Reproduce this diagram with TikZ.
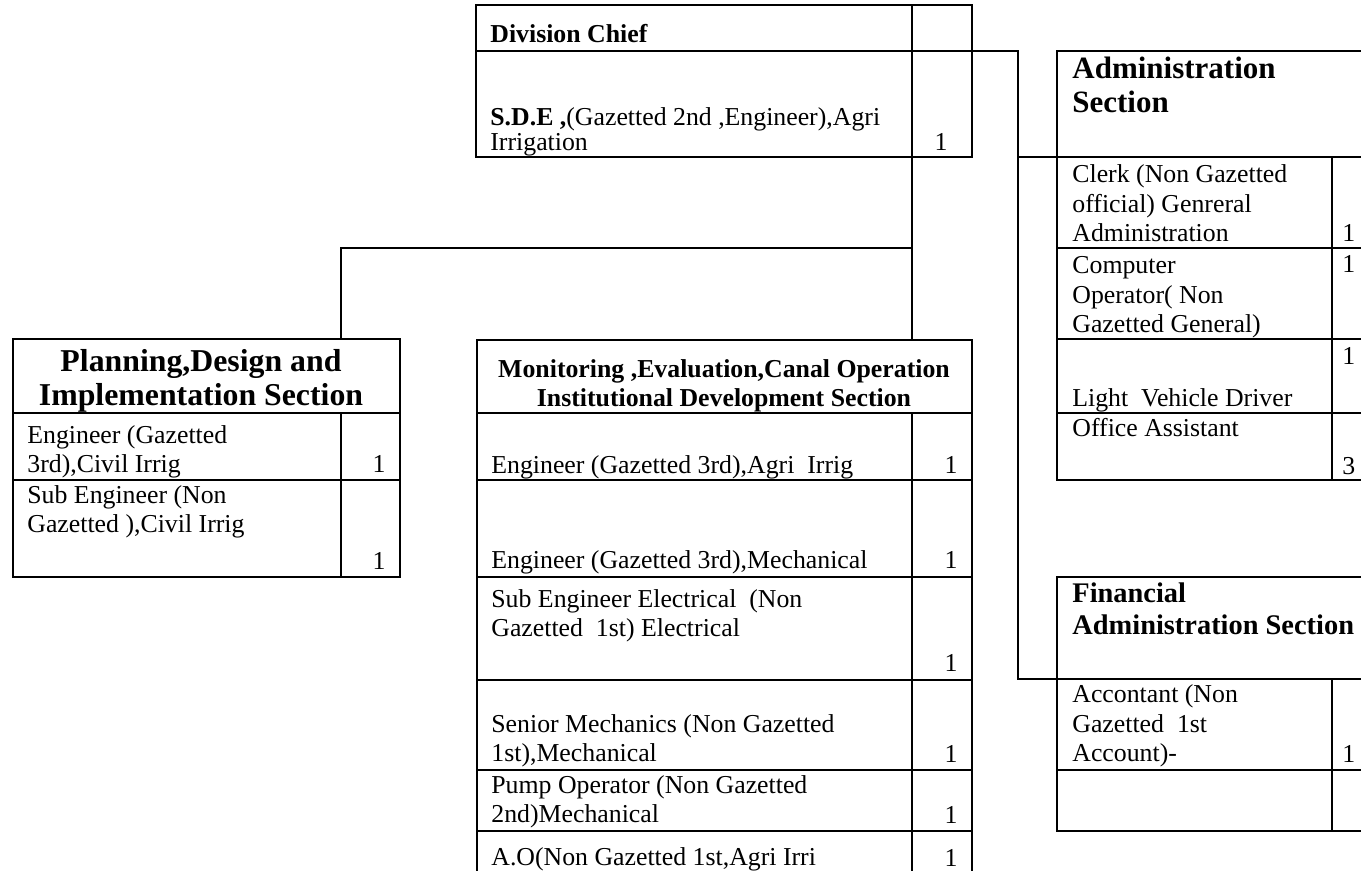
\documentclass[tikz,border=0pt]{standalone}
\usepackage{fontspec}
\setmainfont{Liberation Serif}
\tikzset{
  tablebox/.style={draw, line width=1pt, inner sep=0pt, outer sep=0pt, anchor=north west},
  cellrule/.style={line width=1pt},
  wire/.style={line width=1pt},
  celltext/.style={inner sep=0pt, align=left, anchor=south west, yshift=-4.425pt,
    font=\fontsize{12.9}{14.75}\selectfont, execute at end node=\strut},
  % yshift adds up: net shift is -3.75pt, the strut depth at 12.5pt leading
  celltight/.style={celltext, yshift=0.675pt, font=\fontsize{12.9}{12.5}\selectfont},
  cellbold/.style={celltext, font=\bfseries\fontsize{12.9}{14.75}\selectfont},
  sectitle/.style={inner sep=0pt, align=left, anchor=south west, yshift=-5.1pt,
    font=\bfseries\fontsize{15.5}{17}\selectfont, execute at end node=\strut},
  tally/.style={inner sep=0pt, anchor=base east, font=\fontsize{12.9}{14.75}\selectfont},
  tallyl/.style={tally, anchor=base west},
}
\begin{document}
\begin{tikzpicture}[x=0.5pt, y=-0.5pt]
\useasboundingbox (0,0) rectangle (1361,871);
\clip (0,0) rectangle (1361,871);

% ---- table frames ----
\node[tablebox, minimum width=248pt, minimum height=76pt] (chief) at (476,5) {};
\node[tablebox, minimum width=193.5pt, minimum height=119pt] (plan) at (13,339) {};
\node[tablebox, minimum width=247.5pt, minimum height=300pt] (mon) at (477,340) {};
\node[tablebox, minimum width=200pt, minimum height=214.5pt] (admin) at (1057,51) {};
\node[tablebox, minimum width=200pt, minimum height=127pt] (fin) at (1057,577) {};

% ---- inner rules: Division Chief ----
\draw[cellrule] (chief.west |- 0,51) -- (chief.east |- 0,51);
\draw[cellrule] (912,0 |- chief.north) -- (912,0 |- chief.south);

% ---- inner rules: Planning ----
\draw[cellrule] (plan.west |- 0,413) -- (plan.east |- 0,413);
\draw[cellrule] (plan.west |- 0,480) -- (plan.east |- 0,480);
\draw[cellrule] (341,413) -- (341,0 |- plan.south);

% ---- inner rules: Monitoring ----
\foreach \yy in {413,480,577,680,770,831}
  \draw[cellrule] (mon.west |- 0,\yy) -- (mon.east |- 0,\yy);
\draw[cellrule] (912,413) -- (912,0 |- mon.south);

% ---- inner rules: Administration ----
\foreach \yy in {157,248,339,413}
  \draw[cellrule] (admin.west |- 0,\yy) -- (admin.east |- 0,\yy);
\draw[cellrule] (1332,157) -- (1332,0 |- admin.south);

% ---- inner rules: Financial ----
\foreach \yy in {679,770}
  \draw[cellrule] (fin.west |- 0,\yy) -- (fin.east |- 0,\yy);
\draw[cellrule] (1332,679) -- (1332,0 |- fin.south);

% ---- connectors ----
\coordinate (trunktop) at (chief.south -| 912,0);
\coordinate (trunkbot) at (mon.north -| 912,0);
\coordinate (tee) at (912,248);
\coordinate (plantop) at (plan.north -| 341,0);
\coordinate (chiefhdr) at (chief.east |- 0,51);
\coordinate (adminhdr) at (admin.west |- 0,157);
\coordinate (finhdr) at (fin.west |- 0,679);
\draw[wire] (trunktop) -- (trunkbot);
\draw[wire] (plantop) |- (tee);
\draw[wire] (chiefhdr) -- ++(46,0) |- (finhdr);
\draw[wire] (adminhdr) -- ++(-39,0);

% ---- Division Chief ----
\node[cellbold] (chiefname) at (490,43) {Division Chief};
\node[celltight] (sde) at (490,151) {\textbf{S.D.E ,}(Gazetted 2nd ,Engineer),Agri\\Irrigation};
\node[tally] (sdeno) at (948,151) {1};

% ---- Planning, Design and Implementation ----
\node[sectitle, font=\bfseries\fontsize{15.9}{17}\selectfont, align=center, anchor=south] (planhd) at (201,406) {Planning,Design and\\Implementation Section};
\node[celltext] (p1) at (27,473) {Engineer (Gazetted\\3rd),Civil Irrig};
\node[tally] (p1no) at (386,473) {1};
\node[celltext] (p2) at (27,533) {Sub Engineer (Non\\Gazetted ),Civil Irrig};
\node[tally] (p2no) at (386,570) {1};

% ---- Monitoring, Evaluation ----
\node[cellbold, align=center, anchor=south] (monhd) at (724,407) {Monitoring ,Evaluation,Canal Operation\\Institutional Development Section};
\node[celltext] (m1) at (491,474) {Engineer (Gazetted 3rd),Agri\ \ Irrig};
\node[tally] (m1no) at (958,474) {1};
\node[celltext] (m2) at (491,569) {Engineer (Gazetted 3rd),Mechanical};
\node[tally] (m2no) at (958,569) {1};
\node[celltext] (m3) at (491,637) {Sub Engineer Electrical\ \ (Non\\Gazetted\ \ 1st) Electrical};
\node[tally] (m3no) at (958,671) {1};
\node[celltext] (m4) at (491,762) {Senior Mechanics (Non Gazetted\\1st),Mechanical};
\node[tally] (m4no) at (958,762) {1};
\node[celltext] (m5) at (491,823) {Pump Operator (Non Gazetted\\2nd)Mechanical};
\node[tally] (m5no) at (958,823) {1};
\node[celltext] (m6) at (491,866) {A.O(Non Gazetted 1st,Agri Irri};
\node[tally] (m6no) at (958,866) {1};

% ---- Administration ----
\node[sectitle] (admhd) at (1072,113) {Administration\\Section};
\node[celltext] (a1) at (1072,242) {Clerk (Non Gazetted\\official) Genreral\\Administration};
\node[tallyl] (a1no) at (1342,242) {1};
\node[celltext] (a2) at (1072,333) {Computer\\Operator( Non\\Gazetted General)};
\node[tallyl] (a2no) at (1342,273) {1};
\node[celltext] (a3) at (1072,407) {Light\ \ Vehicle Driver};
\node[tallyl] (a3no) at (1342,365) {1};
\node[celltext] (a4) at (1072,437) {Office Assistant};
\node[tallyl] (a4no) at (1342,475) {3};

% ---- Financial Administration ----
% yshift adds up: net shift is -4.8pt, the strut depth at 16pt leading
\node[sectitle, font=\bfseries\fontsize{14.2}{16}\selectfont, yshift=0.3pt] (finhd) at (1072,635) {Financial\\Administration Section};
\node[celltext] (f1) at (1072,762) {Accontant (Non\\Gazetted\ \ 1st\\Account)-};
\node[tallyl] (f1no) at (1342,762) {1};
\end{tikzpicture}
\end{document}
